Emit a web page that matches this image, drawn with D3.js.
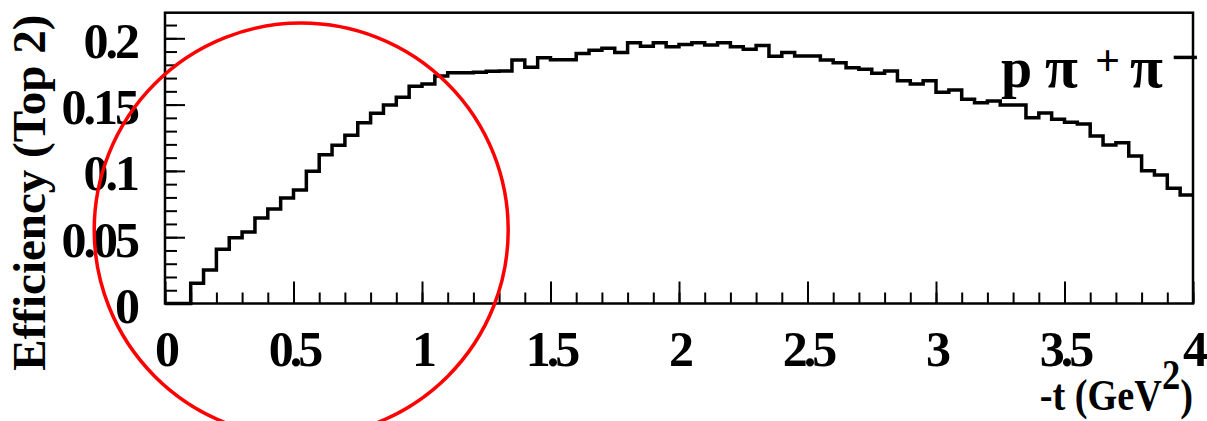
<!DOCTYPE html>
<html>
<head>
<meta charset="utf-8">
<script src="https://cdn.jsdelivr.net/npm/d3@7"></script>
<style>
  body { margin: 0; background: #fff; }
  svg text { font-family: "Liberation Serif", "Times New Roman", serif; font-weight: bold; fill: #000; }
</style>
</head>
<body>
<svg id="chart" width="1207" height="421"></svg>
<script>
// Histogram binning of -t (GeV^2): 80 bins of width 0.05 from 0 to 4
const tMin = 0;
const tMax = 4;
const binCount = 80;

// Top-2 efficiency per bin
const efficiency = [
  0, 0, 0.0152, 0.0253, 0.0409, 0.0496, 0.0539, 0.0645, 0.0713, 0.0796,
  0.0856, 0.0997, 0.1122, 0.1193, 0.1268, 0.1364, 0.1434, 0.1497, 0.1555, 0.1638,
  0.1655, 0.1716, 0.1741, 0.1741, 0.1743, 0.1751, 0.1754, 0.1836, 0.1781, 0.1853,
  0.1838, 0.1838, 0.1885, 0.1910, 0.1924, 0.1892, 0.1967, 0.1940, 0.1967, 0.1937,
  0.1953, 0.1967, 0.1950, 0.1967, 0.1937, 0.1918, 0.1945, 0.1865, 0.1892, 0.1867,
  0.1867, 0.1836, 0.1816, 0.1778, 0.1766, 0.1736, 0.1753, 0.1680, 0.1655, 0.1680,
  0.1593, 0.1610, 0.1540, 0.1514, 0.1528, 0.1497, 0.1497, 0.1400, 0.1436, 0.1389,
  0.1366, 0.1354, 0.1263, 0.1195, 0.1213, 0.1112, 0.1002, 0.0969, 0.0869, 0.0818
];

const xTickValues = [0, 0.5, 1, 1.5, 2, 2.5, 3, 3.5, 4];
const xTickLabels = ["0", "0.5", "1", "1.5", "2", "2.5", "3", "3.5", "4"];
const yTickValues = [0, 0.05, 0.1, 0.15, 0.2];
const yTickLabels = ["0", "0.05", "0.1", "0.15", "0.2"];

const xTitle = "-t (GeV";
const yTitle = "Efficiency (Top 2)";
const channel = ["p", "\u03C0", "+", "\u03C0", "\u2212"];

// Frame geometry
const frame = { left: 165, right: 1193, top: 12.7, bottom: 303.5 };
const yMax = 0.2193;

const svg = d3.select("#chart");

const x = d3.scaleLinear().domain([tMin, tMax]).range([frame.left, frame.right]);
const y = d3.scaleLinear().domain([0, yMax]).range([frame.bottom, frame.top]);

const binWidth = (tMax - tMin) / binCount;
const steps = efficiency.map((v, i) => ({ t: tMin + i * binWidth, v }));
steps.push({ t: tMax, v: efficiency[efficiency.length - 1] });

const xMinor = d3.range(0, 41).map(i => tMin + i * 0.1);
const yMinor = d3.range(0, 22).map(i => i * 0.01);

// Minor ticks
svg.append("g")
  .attr("transform", `translate(0,${frame.bottom})`)
  .call(d3.axisBottom(x).tickValues(xMinor).tickSize(-11).tickFormat(""))
  .call(g => g.select(".domain").remove())
  .call(g => g.selectAll("line").attr("stroke", "#000").attr("stroke-width", 2));

svg.append("g")
  .attr("transform", `translate(${frame.left},0)`)
  .call(d3.axisLeft(y).tickValues(yMinor).tickSize(-12).tickFormat(""))
  .call(g => g.select(".domain").remove())
  .call(g => g.selectAll("line").attr("stroke", "#000").attr("stroke-width", 2));

// Major ticks with labels
svg.append("g")
  .attr("transform", `translate(0,${frame.bottom})`)
  .call(d3.axisBottom(x).tickValues(xTickValues).tickSize(-22)
        .tickFormat((d, i) => xTickLabels[i]))
  .call(g => g.select(".domain").remove())
  .call(g => g.selectAll("line").attr("stroke", "#000").attr("stroke-width", 2))
  .call(g => g.selectAll("text")
     .attr("y", 62.5).attr("dy", null)
     .style("font-size", "50px").style("letter-spacing", "-4px")
     .attr("fill", "#000"));

svg.append("g")
  .attr("transform", `translate(${frame.left},0)`)
  .call(d3.axisLeft(y).tickValues(yTickValues).tickSize(-20)
        .tickFormat((d, i) => yTickLabels[i]))
  .call(g => g.select(".domain").remove())
  .call(g => g.selectAll("line").attr("stroke", "#000").attr("stroke-width", 2))
  .call(g => g.selectAll("text")
     .attr("x", -28).attr("dy", "0.38em")
     .style("font-size", "50px").style("letter-spacing", "-3px")
     .attr("fill", "#000"));

// Histogram outline
const line = d3.line()
  .x(d => x(d.t))
  .y(d => y(d.v))
  .curve(d3.curveStepAfter);

svg.append("path")
  .datum(steps)
  .attr("d", line)
  .attr("fill", "none")
  .attr("stroke", "#000")
  .attr("stroke-width", 3.5)
  .attr("stroke-linejoin", "miter");

// Frame
svg.append("rect")
  .attr("x", frame.left).attr("y", frame.top)
  .attr("width", frame.right - frame.left)
  .attr("height", frame.bottom - frame.top)
  .attr("fill", "none").attr("stroke", "#000").attr("stroke-width", 2.5);

// Axis titles
svg.append("text")
  .attr("transform", `translate(45,${frame.top + 2}) rotate(-90)`)
  .attr("text-anchor", "end")
  .style("font-size", "47px")
  .text(yTitle);

const xt = svg.append("text")
  .attr("transform", `translate(${frame.right},410) scale(0.87,1)`)
  .attr("text-anchor", "end")
  .style("font-size", "44px");
xt.append("tspan").text(xTitle);
xt.append("tspan").attr("dy", -21).style("font-size", "42px").text("2");
xt.append("tspan").attr("dy", 21).text(")");

// Reaction channel label
const ch = svg.append("text");
ch.append("tspan").attr("x", 1001).attr("y", 87).style("font-size", "56px").text(channel[0]);
ch.append("tspan").attr("x", 1045).attr("y", 87).style("font-size", "60px").text(channel[1]);
ch.append("tspan").attr("x", 1095).attr("y", 75).style("font-size", "44px").text(channel[2]);
ch.append("tspan").attr("x", 1130).attr("y", 87).style("font-size", "60px").text(channel[3]);
ch.append("tspan").attr("x", 1171).attr("y", 74).style("font-size", "50px").text(channel[4]);

// Highlight circle around the low -t region
svg.append("circle")
  .attr("cx", x(0.53)).attr("cy", y(0.0554))
  .attr("r", 207)
  .attr("fill", "none")
  .attr("stroke", "#ff0000")
  .attr("stroke-width", 3.5);
</script>
</body>
</html>
